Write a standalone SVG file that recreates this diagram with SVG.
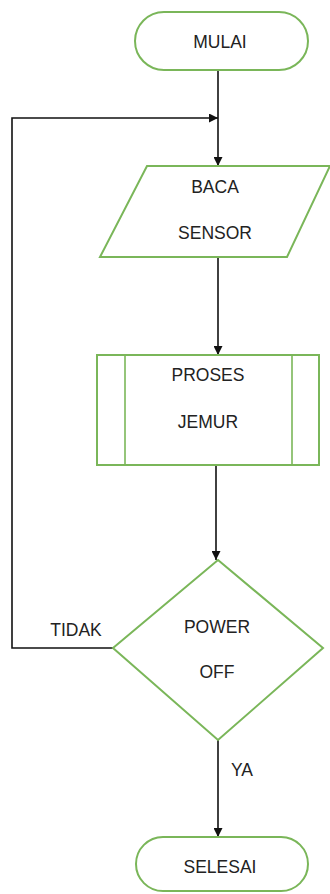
<svg xmlns="http://www.w3.org/2000/svg" width="330" height="894" viewBox="0 0 330 894">
<style>
.n{fill:#fff;stroke:#7ab659;stroke-width:2}
.t{font-family:"Liberation Sans",Arial,sans-serif;font-size:17.5px;fill:#222;text-anchor:middle}
.c{fill:none;stroke:#111;stroke-width:1.6}
</style>
<defs>
<marker id="a" viewBox="0 0 10 10" refX="10" refY="5" markerWidth="9" markerHeight="9" markerUnits="userSpaceOnUse" orient="auto">
<path d="M0,0L10,5L0,10z" fill="#111"/>
</marker>
</defs>
<g id="connectors">
<path class="c" d="M218,70V166" marker-end="url(#a)"/>
<path class="c" d="M113,648H12V118H218" marker-end="url(#a)" stroke="#333"/>
<path class="c" d="M218,257V355" marker-end="url(#a)"/>
<path class="c" d="M216,465V560" marker-end="url(#a)"/>
<path class="c" d="M218,740V837" marker-end="url(#a)"/>
<text class="t" x="76" y="636">TIDAK</text>
<text class="t" x="242" y="776">YA</text>
</g>
<g id="mulai">
<rect class="n" x="135" y="12" width="173" height="58" rx="29"/>
<text class="t" x="220" y="48">MULAI</text>
</g>
<g id="baca">
<polygon class="n" points="147,166 330,166 287,257 100,257"/>
<text class="t" x="215" y="193">BACA</text>
<text class="t" x="215" y="239">SENSOR</text>
</g>
<g id="proses">
<rect class="n" x="97" y="355" width="222" height="110"/>
<line class="n" x1="125" y1="355" x2="125" y2="465" stroke-opacity="0.8"/>
<line class="n" x1="292" y1="355" x2="292" y2="465" stroke-opacity="0.8"/>
<text class="t" x="208" y="381">PROSES</text>
<text class="t" x="208" y="428">JEMUR</text>
</g>
<g id="power">
<polygon class="n" points="218,560 323,648 218,740 113,648"/>
<text class="t" x="217" y="633">POWER</text>
<text class="t" x="217" y="678">OFF</text>
</g>
<g id="selesai">
<rect class="n" x="136" y="837" width="172" height="54" rx="27"/>
<text class="t" x="220" y="873">SELESAI</text>
</g>
</svg>
